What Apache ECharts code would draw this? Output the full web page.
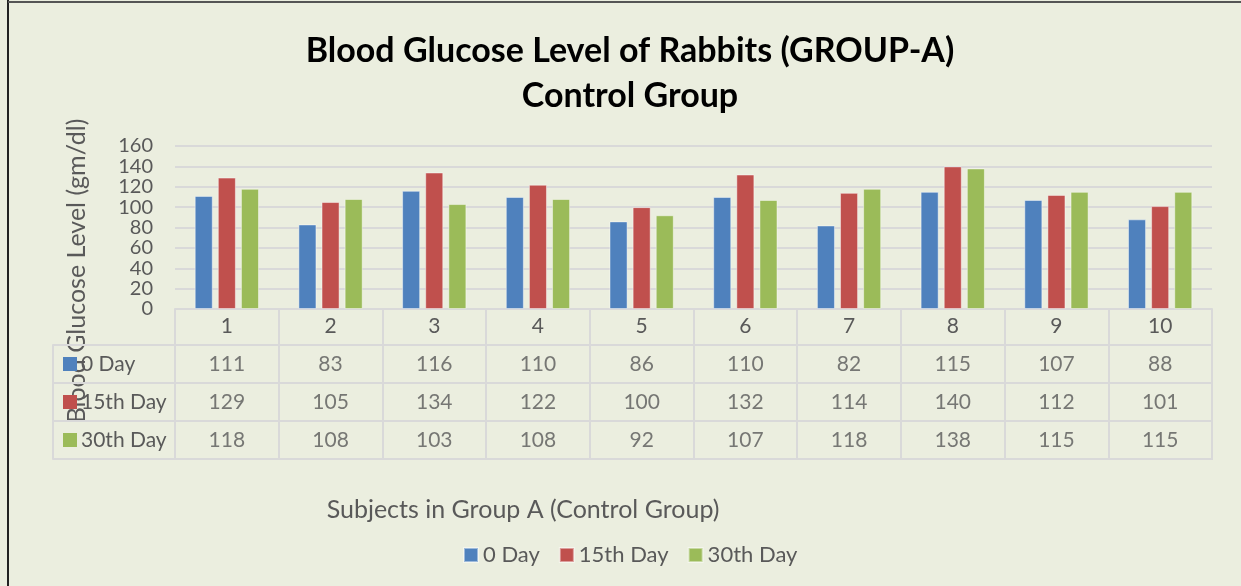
<!DOCTYPE html>
<html>
<head>
<meta charset="utf-8">
<script src="https://cdn.jsdelivr.net/npm/echarts@6/dist/echarts.min.js"></script>
<style>
html,body{margin:0;padding:0;background:#ebeedf;}
#c{width:1241px;height:586px;}
</style>
</head>
<body>
<div id="c"></div>
<script>
const subjects = ['1','2','3','4','5','6','7','8','9','10'];
const seriesNames = ['0 Day','15th Day','30th Day'];
const day0 = [111,83,116,110,86,110,82,115,107,88];
const day15 = [129,105,134,122,100,132,114,140,112,101];
const day30 = [118,108,103,108,92,107,118,138,115,115];
const colors = ['#4f81bd','#c0504d','#9bbb59'];

const allValues = [day0, day15, day30];
const tableData = [];
allValues.forEach((vals, r) => {
  vals.forEach((v, i) => tableData.push([subjects[i], seriesNames[r], v]));
});

const FONT = 'Lato';
const GREY = '#595959';
const LINE = '#d9d9d9';

const chart = echarts.init(document.getElementById('c'));
chart.setOption({
  backgroundColor: '#ebeedf',
  animation: false,
  textStyle: {fontFamily: FONT},
  title: {
    text: 'Blood Glucose Level of Rabbits (GROUP-A)\nControl Group',
    left: 625, top: 24, textAlign: 'center',
    textStyle: {fontFamily: FONT, fontWeight: 'bold', fontSize: 34, color: '#000', lineHeight: 45}
  },
  legend: {
    data: seriesNames,
    left: 463, top: 544, padding: 0,
    itemWidth: 14, itemHeight: 14, itemGap: 19,
    icon: 'rect',
    textStyle: {fontFamily: FONT, fontSize: 22, color: GREY}
  },
  graphic: [
    {type: 'line', shape: {x1: 8, y1: 0, x2: 8, y2: 586}, style: {stroke: '#222', lineWidth: 2}},
    {type: 'line', shape: {x1: 8, y1: 2, x2: 1241, y2: 2}, style: {stroke: '#555', lineWidth: 2}},
    {type: 'text', x: 77, y: 271, rotation: Math.PI / 2,
     style: {text: 'Blood Glucose Level (gm/dl)', fill: GREY, font: '25px Lato', textAlign: 'center', textVerticalAlign: 'middle'}},
    {type: 'text', x: 523, y: 510,
     style: {text: 'Subjects in Group A (Control Group)', fill: GREY, font: '25px Lato', textAlign: 'center', textVerticalAlign: 'middle'}}
  ],
  grid: [
    {left: 175, right: 29, top: 146, height: 163},
    {left: 175, right: 29, top: 345, height: 114, show: true, borderColor: LINE, borderWidth: 2}
  ],
  xAxis: [
    {type: 'category', gridIndex: 0, data: subjects,
     axisLine: {show: true, lineStyle: {color: LINE, width: 2}},
     axisTick: {show: false}, axisLabel: {show: false}},
    {type: 'category', gridIndex: 1, data: subjects, position: 'top',
     axisLine: {show: true, lineStyle: {color: LINE, width: 2}},
     axisTick: {show: true, length: 36, lineStyle: {color: LINE, width: 2}},
     axisLabel: {fontSize: 21, color: GREY, margin: 8},
     splitLine: {show: true, lineStyle: {color: LINE, width: 2}}}
  ],
  yAxis: [
    {type: 'value', gridIndex: 0, min: 0, max: 160, interval: 20,
     axisLine: {show: false}, axisTick: {show: false},
     axisLabel: {fontSize: 20, lineHeight: 20, color: GREY, margin: 22, showMinLabel: true, showMaxLabel: true, hideOverlap: false},
     splitLine: {lineStyle: {color: LINE, width: 2}}},
    {type: 'category', gridIndex: 1, data: seriesNames, inverse: true,
     axisLine: {show: true, lineStyle: {color: LINE, width: 2}},
     axisTick: {show: true, length: 122, lineStyle: {color: LINE, width: 2}},
     axisLabel: {
       margin: 112, align: 'left', fontSize: 21, color: GREY,
       formatter: (v) => {
         const k = seriesNames.indexOf(v);
         return '{s' + k + '|}{t|' + v + '}';
       },
       rich: {
         s0: {backgroundColor: colors[0], width: 14, height: 14},
         s1: {backgroundColor: colors[1], width: 14, height: 14},
         s2: {backgroundColor: colors[2], width: 14, height: 14},
         t: {fontSize: 21, color: GREY, padding: [0, 0, 0, 4]}
       }
     },
     splitLine: {show: true, lineStyle: {color: LINE, width: 2}}},
    {type: 'category', gridIndex: 1, data: seriesNames, inverse: true, position: 'left', offset: 122,
     axisLine: {show: true, lineStyle: {color: LINE, width: 2}},
     axisTick: {show: false}, axisLabel: {show: false}, splitLine: {show: false}}
  ],
  series: [
    ...allValues.map((vals, r) => ({
      name: seriesNames[r], type: 'bar', xAxisIndex: 0, yAxisIndex: 0,
      data: vals, barGap: '28%', barCategoryGap: '38%',
      itemStyle: {color: colors[r], borderColor: 'rgba(255,255,255,0.45)', borderWidth: 1}
    })),
    {type: 'scatter', xAxisIndex: 1, yAxisIndex: 1, data: tableData,
     symbolSize: 1, itemStyle: {color: 'rgba(0,0,0,0)'}, silent: true,
     label: {show: true, position: 'inside', formatter: (p) => String(p.value[2]), fontSize: 21, color: GREY, fontFamily: FONT}}
  ]
});
</script>
</body>
</html>
